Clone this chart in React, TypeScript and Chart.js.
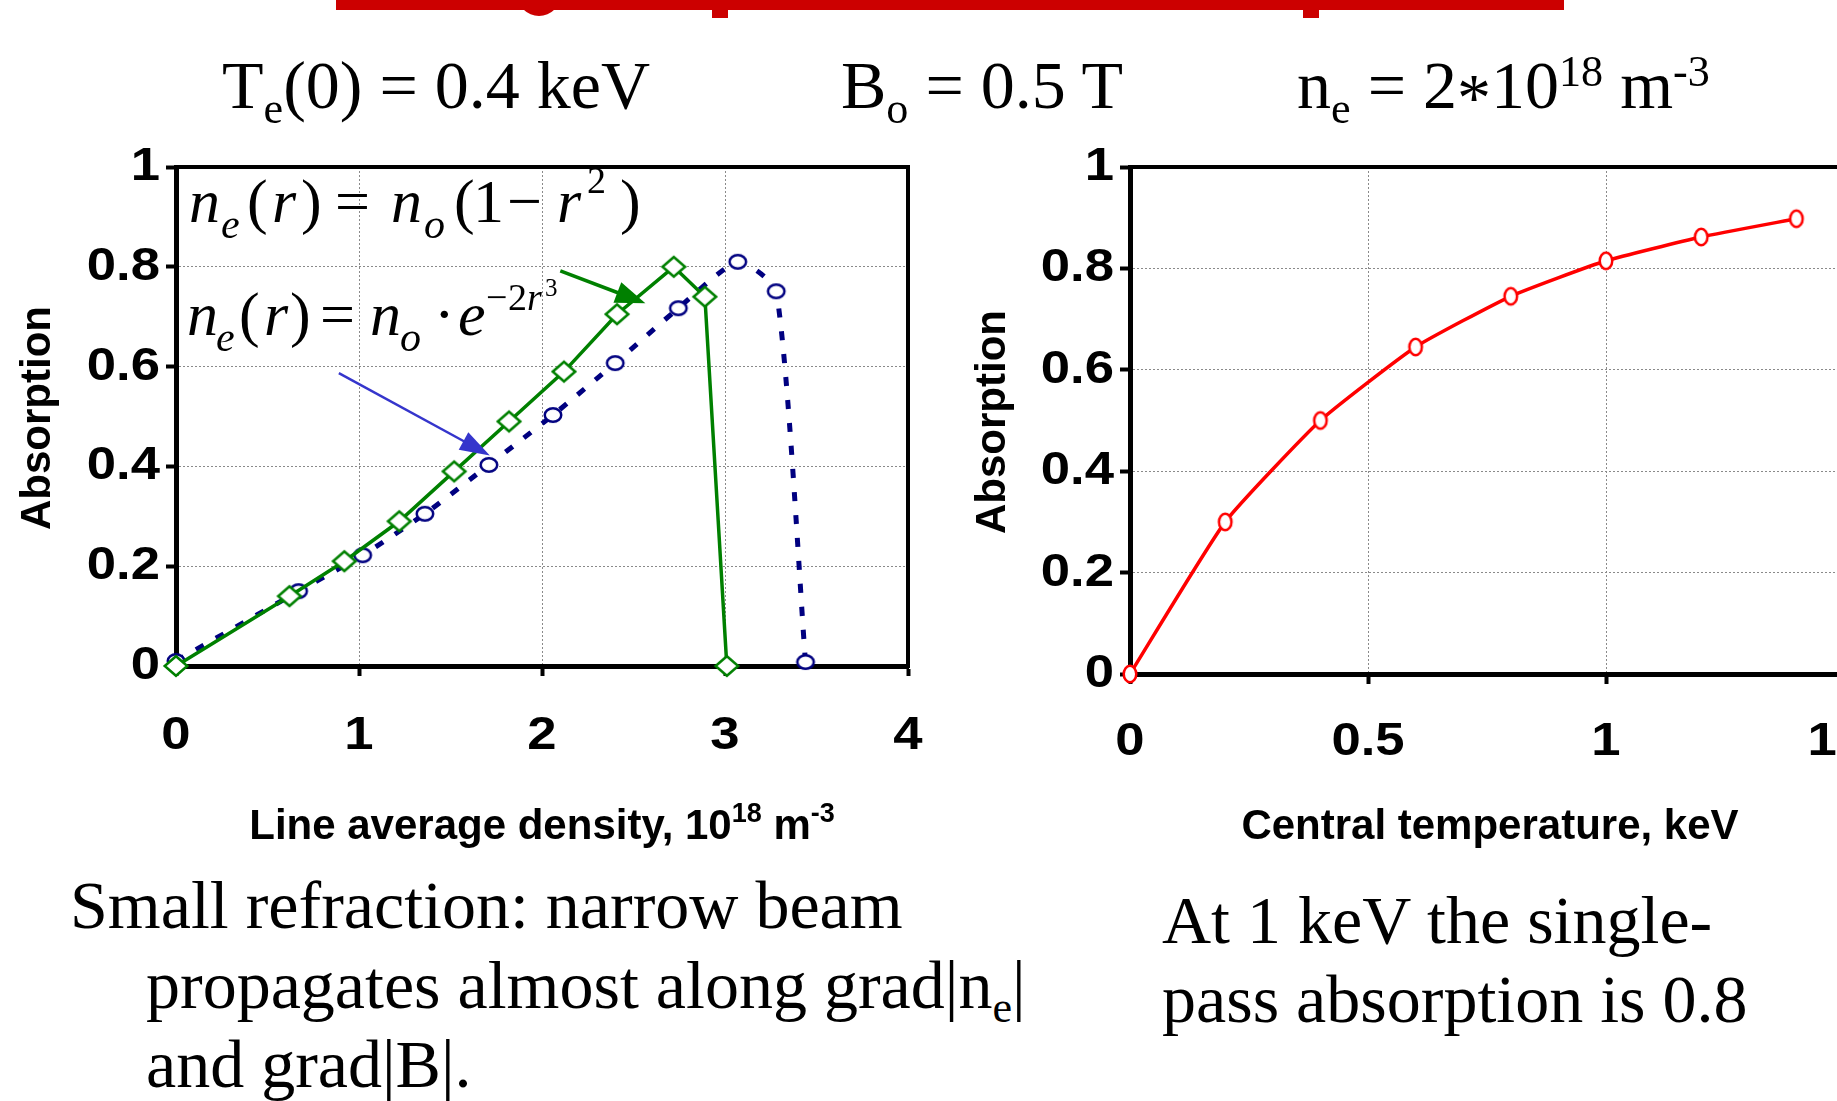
import React, { useEffect, useRef } from 'react';
import { Chart, registerables } from 'chart.js';

Chart.register(...registerables);

// ---------------- data ----------------
// left chart: absorption vs line-average density (10^18 m^-3)
const parabolicDensity = [0, 0.62, 0.92, 1.22, 1.52, 1.82, 2.12, 2.41, 2.72, 2.89, 3.01];
const parabolicAbsorption = [0, 0.14, 0.21, 0.29, 0.39, 0.49, 0.59, 0.705, 0.8, 0.74, 0];
const peakedDensity = [0, 0.67, 1.02, 1.36, 1.71, 2.06, 2.4, 2.745, 3.07, 3.28, 3.44];
const peakedAbsorption = [0.01, 0.15, 0.222, 0.305, 0.403, 0.503, 0.607, 0.717, 0.81, 0.751, 0.008];
// right chart: absorption vs central temperature (keV)
const centralTemperature = [0, 0.2, 0.4, 0.6, 0.8, 1.0, 1.2, 1.4];
const singlePassAbsorption = [0, 0.3, 0.5, 0.645, 0.745, 0.815, 0.862, 0.898];

const densityTickLabels = ['0', '1', '2', '3', '4'];
const temperatureTickLabels = ['0', '0.5', '1', '1.5'];
const absorptionTickLabels = ['0', '0.2', '0.4', '0.6', '0.8', '1'];

// arrows (data coordinates of the left chart)
const parabolicArrowFrom = [2.1, 0.792];
const parabolicArrowTo = [2.565, 0.727];
const peakedArrowFrom = [0.89, 0.587];
const peakedArrowTo = [1.715, 0.422];

// ---------------- styles ----------------
const SERIF = '"Liberation Serif", "Times New Roman", serif';
const SANS = '"Liberation Sans", Arial, sans-serif';
const GREEN = '#008000';
const NAVY = '#000080';
const RED = '#ff0000';
const ARROW_BLUE = '#3535cc';
const GRID = '#8a8a8a';
const TICK_LEN = 10;
const TICK_FONT = 47;
const TICK_SX = 1.12;
const TITLE_FONT = 42;

function markerCanvas(kind: 'ellipse' | 'diamond', w: number, h: number, color: string, lw: number) {
  const c = document.createElement('canvas');
  const W = Math.ceil(w) + 6;
  const H = Math.ceil(h) + 6;
  c.width = W % 2 ? W + 1 : W;
  c.height = H % 2 ? H + 1 : H;
  const g = c.getContext('2d')!;
  g.lineWidth = lw;
  g.strokeStyle = color;
  g.fillStyle = '#fff';
  const cx = c.width / 2;
  const cy = c.height / 2;
  const rx = (w - lw) / 2;
  const ry = (h - lw) / 2;
  g.beginPath();
  if (kind === 'ellipse') {
    g.ellipse(cx, cy, rx, ry, 0, 0, Math.PI * 2);
  } else {
    g.moveTo(cx - rx, cy);
    g.lineTo(cx, cy - ry);
    g.lineTo(cx + rx, cy);
    g.lineTo(cx, cy + ry);
    g.closePath();
  }
  g.fill();
  g.stroke();
  return c;
}

function stretchedText(
  ctx: CanvasRenderingContext2D,
  text: string,
  x: number,
  y: number,
  sx: number,
  align: CanvasTextAlign,
  baseline: CanvasTextBaseline,
  rotate = 0
) {
  ctx.save();
  ctx.translate(x, y);
  ctx.scale(sx, 1);
  if (rotate) ctx.rotate(rotate);
  ctx.textAlign = align;
  ctx.textBaseline = baseline;
  ctx.fillText(text, 0, 0);
  ctx.restore();
}

type Run = { text: string; size: number; rise: number };
function drawRuns(ctx: CanvasRenderingContext2D, runs: Run[], cx: number, baseline: number) {
  const widths = runs.map((r) => {
    ctx.font = `bold ${r.size}px ${SANS}`;
    return ctx.measureText(r.text).width;
  });
  const total = widths.reduce((s, w) => s + w, 0);
  let x = cx - total / 2;
  runs.forEach((r, i) => {
    ctx.font = `bold ${r.size}px ${SANS}`;
    ctx.textAlign = 'left';
    ctx.textBaseline = 'alphabetic';
    ctx.fillText(r.text, x, baseline - r.rise);
    x += widths[i];
  });
}

function drawArrow(
  ctx: CanvasRenderingContext2D,
  x1: number, y1: number, x2: number, y2: number,
  color: string, width: number, headLen: number, headHalf: number
) {
  const ang = Math.atan2(y2 - y1, x2 - x1);
  const bx = x2 - headLen * Math.cos(ang);
  const by = y2 - headLen * Math.sin(ang);
  ctx.save();
  ctx.strokeStyle = color;
  ctx.fillStyle = color;
  ctx.lineWidth = width;
  ctx.beginPath();
  ctx.moveTo(x1, y1);
  ctx.lineTo(bx + 2 * Math.cos(ang), by + 2 * Math.sin(ang));
  ctx.stroke();
  ctx.beginPath();
  ctx.moveTo(x2, y2);
  ctx.lineTo(bx + headHalf * Math.sin(ang), by - headHalf * Math.cos(ang));
  ctx.lineTo(bx - headHalf * Math.sin(ang), by + headHalf * Math.cos(ang));
  ctx.closePath();
  ctx.fill();
  ctx.restore();
}

// equation glyph layout: [text, x, baseline, size, italic]
type Glyph = [string, number, number, number, boolean];
const eqParabolic: Glyph[] = [
  ['n', 189, 222, 62, true],
  ['e', 221, 238, 42, true],
  ['(', 247, 222, 62, false],
  ['r', 272, 222, 62, true],
  [')', 301, 222, 62, false],
  ['=', 335, 222, 62, false],
  ['n', 391, 222, 62, true],
  ['o', 424, 238, 42, true],
  ['(', 454, 222, 62, false],
  ['1', 473, 222, 62, false],
  ['\u2212', 507, 222, 62, false],
  ['r', 557, 222, 62, true],
  ['2', 587, 193, 38, false],
  [')', 620, 222, 62, false],
];
const eqPeaked: Glyph[] = [
  ['n', 187, 335, 62, true],
  ['e', 216, 351, 42, true],
  ['(', 239, 335, 62, false],
  ['r', 264, 335, 62, true],
  [')', 290, 335, 62, false],
  ['=', 320, 335, 62, false],
  ['n', 370, 335, 62, true],
  ['o', 400, 351, 42, true],
  ['\u00b7', 434, 335, 62, false],
  ['e', 458, 335, 62, true],
  ['\u2212', 486, 310, 38, false],
  ['2', 508, 310, 38, false],
  ['r', 527, 310, 38, true],
  ['3', 545, 296, 25, false],
];

function axis(min: number, max: number, step: number) {
  return {
    type: 'linear' as const,
    min,
    max,
    ticks: { stepSize: step, display: false },
    grid: {
      color: GRID,
      lineWidth: 1,
      drawTicks: true,
      tickLength: TICK_LEN,
      tickWidth: 4,
      tickColor: '#000',
      tickBorderDash: [],
    },
    border: { display: true, color: '#000', width: 5, dash: [2, 2] },
  };
}

type Decor = {
  xTicks: string[];
  yTicks: string[];
  xLabelY: number;
  yLabelGap: number;
  xTitle: Run[];
  xTitleX: number;
  xTitleBaseline: number;
  yTitleX: number;
  yTitleY: number;
  extra?: (chart: any) => void;
};

function decorPlugin(d: Decor) {
  return {
    id: 'decor',
    beforeDatasetsDraw(chart: any) {
      const { ctx, chartArea: a } = chart;
      ctx.save();
      ctx.strokeStyle = '#000';
      ctx.lineWidth = 4;
      ctx.lineCap = 'square';
      ctx.beginPath();
      ctx.moveTo(a.left, a.top);
      ctx.lineTo(a.right, a.top);
      ctx.lineTo(a.right, a.bottom);
      ctx.stroke();
      ctx.restore();
    },
    afterDraw(chart: any) {
      const { ctx, chartArea: a } = chart;
      const xs = chart.scales.x;
      const ys = chart.scales.y;
      ctx.save();
      ctx.fillStyle = '#000';
      ctx.font = `bold ${TICK_FONT}px ${SANS}`;
      for (const lab of d.yTicks) {
        const y = ys.getPixelForValue(parseFloat(lab));
        stretchedText(ctx, lab, a.left - d.yLabelGap, y, TICK_SX, 'right', 'middle');
      }
      for (const lab of d.xTicks) {
        const x = xs.getPixelForValue(parseFloat(lab));
        stretchedText(ctx, lab, x, d.xLabelY, TICK_SX, 'center', 'middle');
      }
      drawRuns(ctx, d.xTitle, d.xTitleX, d.xTitleBaseline);
      ctx.font = `bold ${TITLE_FONT}px ${SANS}`;
      stretchedText(ctx, 'Absorption', d.yTitleX, d.yTitleY, 1, 'center', 'middle', -Math.PI / 2);
      if (d.extra) d.extra(chart);
      ctx.restore();
    },
  };
}

function drawEquation(ctx: CanvasRenderingContext2D, glyphs: Glyph[]) {
  ctx.save();
  ctx.fillStyle = '#000';
  ctx.textAlign = 'left';
  ctx.textBaseline = 'alphabetic';
  for (const [t, x, y, s, it] of glyphs) {
    ctx.font = `${it ? 'italic ' : ''}${s}px ${SERIF}`;
    ctx.fillText(t, x, y);
  }
  ctx.restore();
}

const LEFT = { w: 960, h: 880, left: 176, top: 167, right: 908, bottom: 666 };
const RIGHT = { x0: 960, w: 900, h: 880, left: 170, top: 167, right: 884, bottom: 674 };

function Sub({ children, dy = 15, scale = 0.65 }: { children: any; dy?: number; scale?: number }) {
  return (
    <span style={{ fontSize: `${scale}em`, position: 'relative', top: dy, lineHeight: 0 }}>{children}</span>
  );
}

function TextLine({ x, baseline, size = 68, children }: { x: number; baseline: number; size?: number; children: any }) {
  return (
    <div
      style={{
        position: 'absolute',
        left: x,
        top: baseline - 0.8375 * size,
        fontFamily: SERIF,
        fontSize: size,
        lineHeight: `${size}px`,
        whiteSpace: 'nowrap',
        color: '#000',
      }}
    >
      {children}
    </div>
  );
}

export default function App() {
  const leftRef = useRef<HTMLCanvasElement>(null);
  const rightRef = useRef<HTMLCanvasElement>(null);

  useEffect(() => {
    document.documentElement.style.overflow = 'hidden';
    document.body.style.overflow = 'hidden';

    const diamond = markerCanvas('diamond', 25, 22, GREEN, 2.5);
    const navyEllipse = markerCanvas('ellipse', 19, 16, NAVY, 2.5);
    const redEllipse = markerCanvas('ellipse', 15, 19, RED, 2.5);

    const leftChart = new Chart(leftRef.current!, {
      type: 'line',
      data: {
        datasets: [
          {
            label: 'n_e(r) = n_o(1 - r^2)',
            data: parabolicDensity.map((x, i) => ({ x, y: parabolicAbsorption[i] })),
            borderColor: GREEN,
            backgroundColor: '#fff',
            borderWidth: 3.5,
            pointStyle: diamond as any,
            pointRadius: 11,
            tension: 0,
            clip: false as any,
            order: 0,
          },
          {
            label: 'n_e(r) = n_o exp(-2r^3)',
            data: peakedDensity.map((x, i) => ({ x, y: peakedAbsorption[i] })),
            borderColor: NAVY,
            backgroundColor: '#fff',
            borderWidth: 5,
            borderDash: [9, 14],
            pointStyle: navyEllipse as any,
            pointRadius: 10,
            tension: 0.2,
            clip: false as any,
            order: 1,
          },
        ],
      },
      options: {
        responsive: false,
        animation: false,
        devicePixelRatio: 1,
        events: [],
        layout: {
          autoPadding: false,
          padding: {
            left: LEFT.left - TICK_LEN,
            top: LEFT.top,
            right: LEFT.w - LEFT.right,
            bottom: LEFT.h - LEFT.bottom - TICK_LEN,
          },
        },
        plugins: { legend: { display: false }, tooltip: { enabled: false } },
        scales: { x: axis(0, 4, 1), y: axis(0, 1, 0.2) } as any,
      },
      plugins: [
        decorPlugin({
          xTicks: densityTickLabels,
          yTicks: absorptionTickLabels,
          xLabelY: 736,
          yLabelGap: 16,
          xTitle: [
            { text: 'Line average density, 10', size: TITLE_FONT, rise: 0 },
            { text: '18', size: 27, rise: 17 },
            { text: ' m', size: TITLE_FONT, rise: 0 },
            { text: '-3', size: 27, rise: 17 },
          ],
          xTitleX: 542,
          xTitleBaseline: 839,
          yTitleX: 38,
          yTitleY: 418,
          extra: (chart: any) => {
            const { ctx } = chart;
            const xs = chart.scales.x;
            const ys = chart.scales.y;
            drawEquation(ctx, eqParabolic);
            drawEquation(ctx, eqPeaked);
            drawArrow(
              ctx,
              xs.getPixelForValue(parabolicArrowFrom[0]), ys.getPixelForValue(parabolicArrowFrom[1]),
              xs.getPixelForValue(parabolicArrowTo[0]), ys.getPixelForValue(parabolicArrowTo[1]),
              GREEN, 3.5, 30, 11
            );
            drawArrow(
              ctx,
              xs.getPixelForValue(peakedArrowFrom[0]), ys.getPixelForValue(peakedArrowFrom[1]),
              xs.getPixelForValue(peakedArrowTo[0]), ys.getPixelForValue(peakedArrowTo[1]),
              ARROW_BLUE, 2.5, 30, 10
            );
          },
        }),
      ],
    });

    const rightChart = new Chart(rightRef.current!, {
      type: 'line',
      data: {
        datasets: [
          {
            label: 'Single-pass absorption',
            data: centralTemperature.map((x, i) => ({ x, y: singlePassAbsorption[i] })),
            borderColor: RED,
            backgroundColor: '#fff',
            borderWidth: 3.5,
            pointStyle: redEllipse as any,
            pointRadius: 10,
            tension: 0.15,
            clip: false as any,
          },
        ],
      },
      options: {
        responsive: false,
        animation: false,
        devicePixelRatio: 1,
        events: [],
        layout: {
          autoPadding: false,
          padding: {
            left: RIGHT.left - TICK_LEN,
            top: RIGHT.top,
            right: RIGHT.w - RIGHT.right,
            bottom: RIGHT.h - RIGHT.bottom - TICK_LEN,
          },
        },
        plugins: { legend: { display: false }, tooltip: { enabled: false } },
        scales: { x: axis(0, 1.5, 0.5), y: axis(0, 1, 0.2) } as any,
      },
      plugins: [
        decorPlugin({
          xTicks: temperatureTickLabels,
          yTicks: absorptionTickLabels,
          xLabelY: 742,
          yLabelGap: 16,
          xTitle: [{ text: 'Central temperature, keV', size: TITLE_FONT, rise: 0 }],
          xTitleX: 1490 - RIGHT.x0,
          xTitleBaseline: 839,
          yTitleX: 993 - RIGHT.x0,
          yTitleY: 422,
        }),
      ],
    });

    return () => {
      leftChart.destroy();
      rightChart.destroy();
    };
  }, []);

  return (
    <div
      style={{
        position: 'absolute',
        left: 0,
        top: 0,
        width: 1837,
        height: 1101,
        overflow: 'hidden',
        background: '#fff',
      }}
    >
      {/* cut-off red title at the top */}
      <div style={{ position: 'absolute', left: 336, top: 0, width: 1228, height: 10, background: '#cc0000' }} />
      <div
        style={{
          position: 'absolute', left: 517, top: -6, width: 44, height: 22,
          border: '6px solid #cc0000', borderTop: 'none', borderRadius: '0 0 24px 24px', boxSizing: 'border-box',
        }}
      />
      <div style={{ position: 'absolute', left: 712, top: 0, width: 16, height: 18, background: '#cc0000' }} />
      <div style={{ position: 'absolute', left: 1303, top: 0, width: 16, height: 18, background: '#cc0000' }} />

      <canvas
        ref={leftRef}
        width={LEFT.w}
        height={LEFT.h}
        style={{ position: 'absolute', left: 0, top: 0, width: LEFT.w, height: LEFT.h }}
      />
      <canvas
        ref={rightRef}
        width={RIGHT.w}
        height={RIGHT.h}
        style={{ position: 'absolute', left: RIGHT.x0, top: 0, width: RIGHT.w, height: RIGHT.h }}
      />

      {/* header parameters */}
      <TextLine x={222} baseline={108}>
        T<Sub>e</Sub>(0) = 0.4 keV
      </TextLine>
      <TextLine x={841} baseline={108}>
        B<Sub>o</Sub> = 0.5 T
      </TextLine>
      <TextLine x={1297} baseline={108}>
        n<Sub>e</Sub> = 2<span style={{ position: 'relative', top: 12 }}>*</span>10<Sub dy={-22}>18</Sub> m
        <Sub dy={-22}>-3</Sub>
      </TextLine>

      {/* captions */}
      <TextLine x={70} baseline={928}>Small refraction: narrow beam</TextLine>
      <TextLine x={146} baseline={1008}>
        propagates almost along grad|n<Sub dy={14}>e</Sub>|
      </TextLine>
      <TextLine x={146} baseline={1087}>and grad|B|.</TextLine>
      <TextLine x={1162} baseline={943}>At 1 keV the single-</TextLine>
      <TextLine x={1162} baseline={1022}>pass absorption is 0.8</TextLine>
    </div>
  );
}
